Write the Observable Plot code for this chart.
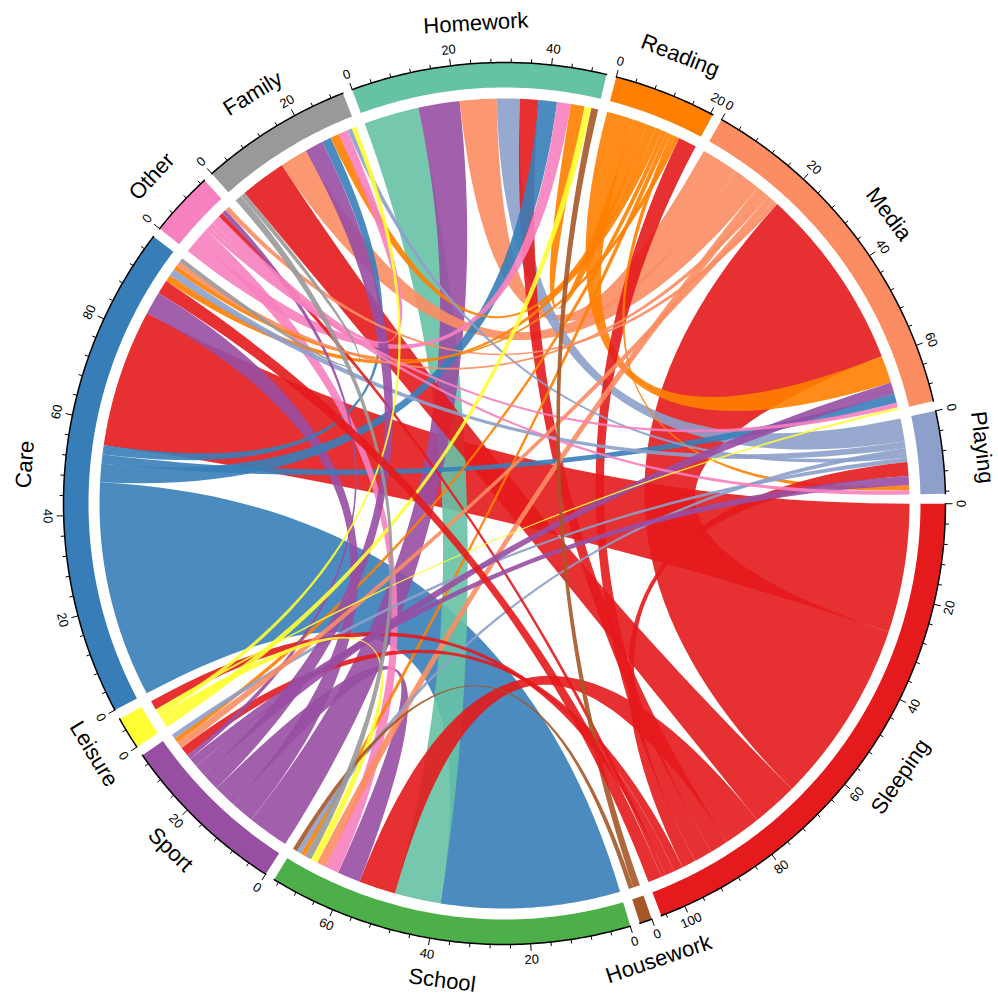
<!DOCTYPE html>
<html><head><meta charset="utf-8">
<script src="https://cdn.jsdelivr.net/npm/d3@7"></script>
<script src="https://cdn.jsdelivr.net/npm/@observablehq/plot@0.6"></script>
<style>body{margin:0;background:#fff}</style>
</head><body><div id="chart"></div>
<script>
const sectors = ["Homework","Reading","Media","Playing","Sleeping","Housework","School","Sport","Leisure","Care","Other","Family"];
const sectorColors = ["#66c2a5","#ff7f00","#fc8d62","#8da0cb","#e41a1c","#a65628","#4daf4a","#984ea3","#ffff33","#377eb8","#f781bf","#999999"];
// links: from, to, width at "from" end, width at "to" end (chord coloured by "from")
const linkFrom = ["Care","Sleeping","Sleeping","Homework","Sport","Sport","Media","Media","Reading","Playing","Sleeping","Sport","Sleeping","Sleeping","Sleeping","Care","Care","Care","Other","Other","Media","Reading","Reading","Reading","Reading","Reading","Reading","Reading","Playing","Playing","Playing","Playing","Sleeping","Sleeping","Sleeping","Sleeping","Sport","Sport","Sport","Sport","Media","Media","Media","Other","Other","Other","Leisure","Leisure","Leisure","Leisure","Housework","Housework","Family","Family","Sleeping"];
const linkTo   = ["School","Care","Media","School","Homework","Care","Homework","Family","Media","Homework","Family","School","School","Homework","Reading","Homework","Media","Family","Homework","School","School","Homework","Family","Care","Sport","School","Playing","Care","Care","School","Family","Sport","Playing","Sport","Leisure","Other","Family","Media","Playing","Other","Care","Sport","Other","Media","Playing","Family","Homework","School","Family","Media","Homework","School","School","Care","Care"];
const valueFrom = [47,28,40,12,9,5,8,6,6,5,10,5,8,4,4,4,2,2,3,3,2,3,2,1.5,1,1,1,1,1.5,1,1,1,3,2,2,1,4,2.5,2,1,1,1.5,1,1,1,2,1.5,1.5,1,0.5,1.5,1,1.5,1,3];
const valueTo   = [39,30,40,10,9,5,8,6,6,5,10,5,8,4,4,4,2,2,3,3,2,3,2,1.5,1,1,1,1,1.5,1,1,1,3,2,2,1,4,2.5,2,1,1,1.5,1,1,1,2,1.5,1.5,1,0.5,1.5,1,1.5,1,3];

const cx = 504, cy = 503;
const R_AXIS = 441, R_BAND_IN = 416, R_CHORD = 405;
const GAP = 1.3, START = -20.2;
const rad = Math.PI / 180;
const pt = (r, a) => [cx + r * Math.sin(a * rad), cy - r * Math.cos(a * rad)];

const n = sectors.length;
const idx = Object.fromEntries(sectors.map((s, i) => [s, i]));
const totals = sectors.map(() => 0);
linkFrom.forEach((f, k) => { totals[idx[f]] += valueFrom[k]; totals[idx[linkTo[k]]] += valueTo[k]; });
const total = d3.sum(totals);
const kdeg = (360 - n * GAP) / total;
const sStart = [], sEnd = [];
let a = START;
for (let i = 0; i < n; i++) { sStart[i] = a; sEnd[i] = a + totals[i] * kdeg; a = sEnd[i] + GAP; }

const ends = linkFrom.map(() => ({}));
for (let i = 0; i < n; i++) {
  const outs = [], ins = [];
  linkFrom.forEach((f, k) => {
    if (idx[f] === i) outs.push({k, role: "s", v: valueFrom[k]});
    if (idx[linkTo[k]] === i) ins.push({k, role: "t", v: valueTo[k]});
  });
  ins.sort((p, q) => q.v - p.v);
  let pos = sStart[i];
  for (const e of [...outs, ...ins]) {
    const w = e.v * kdeg;
    ends[e.k][e.role] = [pos, pos + w];
    pos += w;
  }
}

function arcPts(r, a0, a1) {
  const m = Math.max(2, Math.ceil(Math.abs(a1 - a0) / 0.5));
  return d3.range(m + 1).map(j => pt(r, a0 + (a1 - a0) * j / m));
}
function bez(p0, p2) {
  return d3.range(1, 40).map(j => {
    const t = j / 40, u = 1 - t;
    return [u * u * p0[0] + 2 * u * t * cx + t * t * p2[0], u * u * p0[1] + 2 * u * t * cy + t * t * p2[1]];
  });
}
const ribbonPts = [];
linkFrom.forEach((f, k) => {
  const [s0, s1] = ends[k].s, [t0, t1] = ends[k].t;
  const A = arcPts(R_CHORD, s0, s1), B = arcPts(R_CHORD, t0, t1);
  const poly = [...A, ...bez(A[A.length - 1], B[0]), ...B, ...bez(B[B.length - 1], A[0])];
  poly.forEach(p => ribbonPts.push({id: k, x: p[0], y: p[1], c: sectorColors[idx[f]]}));
});

const bandPts = [], axisPts = [];
sectors.forEach((s, i) => {
  const o = arcPts(R_AXIS, sStart[i], sEnd[i]), inn = arcPts(R_BAND_IN, sEnd[i], sStart[i]);
  [...o, ...inn].forEach(p => bandPts.push({id: i, x: p[0], y: p[1], c: sectorColors[i]}));
  o.forEach(p => axisPts.push({id: i, x: p[0], y: p[1]}));
});

const rot = a => { let b = ((a % 360) + 540) % 360 - 180; return (b >= -90 && b < 90) ? b : (b >= 90 ? b - 180 : b + 180); };
const ticks = [], tickLabels = [];
sectors.forEach((s, i) => {
  for (let v = 0; v <= totals[i] + 1e-9; v += 4) {
    const ang = sStart[i] + v * kdeg;
    const major = v % 20 === 0;
    const p1 = pt(R_AXIS, ang), p2 = pt(R_AXIS + (major ? 7 : 4), ang);
    ticks.push({x1: p1[0], y1: p1[1], x2: p2[0], y2: p2[1]});
    if (major) { const q = pt(R_AXIS + 16, ang); tickLabels.push({x: q[0], y: q[1], t: String(v), r: rot(ang)}); }
  }
});
const sectorLabels = sectors.map((s, i) => {
  const ang = (sStart[i] + sEnd[i]) / 2, q = pt(R_AXIS + 40, ang);
  return {x: q[0], y: q[1], t: s, r: rot(ang)};
});

const chart = Plot.plot({
  width: 998, height: 1004, margin: 0,
  x: {domain: [0, 998], range: [0, 998], axis: null},
  y: {domain: [0, 1004], range: [0, 1004], axis: null},
  color: {type: "identity"},
  style: {fontFamily: "Liberation Sans, Arial, sans-serif", background: "white"},
  marks: [
    Plot.line(ribbonPts, {x: "x", y: "y", z: "id", fill: "c", stroke: "none", fillOpacity: 0.9, curve: "linear"}),
    Plot.line(bandPts, {x: "x", y: "y", z: "id", fill: "c", stroke: "none", curve: "linear"}),
    Plot.line(axisPts, {x: "x", y: "y", z: "id", stroke: "black", strokeWidth: 1.5}),
    Plot.link(ticks, {x1: "x1", y1: "y1", x2: "x2", y2: "y2", stroke: "black", strokeWidth: 1}),
    Plot.text(tickLabels, {x: "x", y: "y", text: "t", rotate: "r", fontSize: 13, fill: "black"}),
    Plot.text(sectorLabels, {x: "x", y: "y", text: "t", rotate: "r", fontSize: 22, fill: "black"})
  ]
});
document.getElementById("chart").appendChild(chart);
</script></body></html>
